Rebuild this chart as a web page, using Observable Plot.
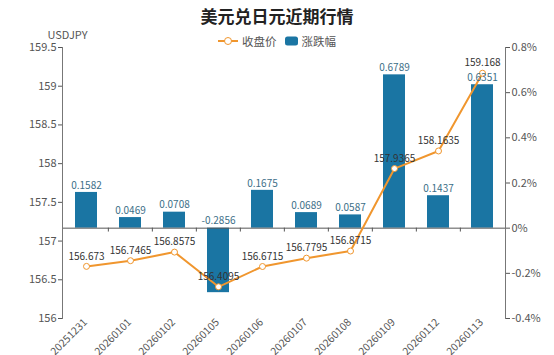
<!DOCTYPE html>
<html><head><meta charset="utf-8">
<script src="https://cdn.jsdelivr.net/npm/d3@7"></script>
<script src="https://cdn.jsdelivr.net/npm/@observablehq/plot@0.6"></script>
<style>
body{margin:0;background:#fff;font-family:"Noto Sans CJK SC","Noto Sans",sans-serif;}
#wrap{position:relative;width:554px;height:355px;}
#title{position:absolute;left:0;width:554px;top:4px;text-align:center;font-size:17px;font-weight:bold;color:#222;line-height:24px;}
#legend{position:absolute;left:0;width:554px;top:33px;text-align:center;font-size:11.5px;color:#555;line-height:16px;}
#legend span{display:inline-flex;align-items:center;margin:0 4px;}
#legend svg{margin-right:4px;}
</style></head>
<body><div id="wrap">
<div id="title">美元兑日元近期行情</div>
<div id="legend"><span><svg width="20" height="10"><line x1="0" y1="5" x2="20" y2="5" stroke="#f0962e" stroke-width="2"/><circle cx="10" cy="5" r="3.5" fill="#fff" stroke="#f0962e"/></svg>收盘价</span><span><svg width="13" height="10"><rect x="0" y="0.5" width="13" height="9" rx="2.5" fill="#1a75a3"/></svg>涨跌幅</span></div>
</div>
<script>
const dates = ["20251231","20260101","20260102","20260105","20260106","20260107","20260108","20260109","20260112","20260113"];
const closePrice = [156.673,156.7465,156.8575,156.4095,156.6715,156.7795,156.8715,157.9365,158.1635,159.168];
const changePct = [0.1582,0.0469,0.0708,-0.2856,0.1675,0.0689,0.0587,0.6789,0.1437,0.6351];
const leftTicks = [156,156.5,157,157.5,158,158.5,159,159.5];
const rightTicks = [-0.4,-0.2,0,0.2,0.4,0.6,0.8];

const data = dates.map((d,i)=>({date:d, close:closePrice[i], change:changePct[i]}));
const L0 = 156, L1 = 159.5, R0 = -0.4, R1 = 0.8;
const toLeft = p => L0 + (p - R0) * (L1 - L0) / (R1 - R0);
const toRight = v => R0 + (v - L0) * (R1 - R0) / (L1 - L0);
const zero = toLeft(0);
const step = (554 - 62 - 49) / dates.length;

const chart = Plot.plot({
  width: 554, height: 355,
  marginLeft: 62, marginRight: 49, marginTop: 47, marginBottom: 37,
  style: {fontFamily: '"Noto Sans CJK SC","Noto Sans",sans-serif', fontSize: "11px", color: "#555", background: "transparent"},
  x: {domain: dates, padding: 0, axis: null},
  y: {domain: [L0, L1], axis: null},
  marks: [
    Plot.text(["Wind"], {frameAnchor: "middle", dx: 0, dy: -17, fontSize: 48, fontWeight: "bold", fill: "#000", fillOpacity: 0.02}),
    Plot.barY(data, {x: "date", y1: () => zero, y2: d => toLeft(d.change), fill: "#1a75a3", insetLeft: 11, insetRight: 11}),
    Plot.ruleY([zero], {stroke: "#555", strokeWidth: 1}),
    Plot.ruleX(dates.slice(1), {x: d => d, y1: zero, y2: zero - 0.05, dx: -step/2, stroke: "#555"}),
    Plot.line(data, {x: "date", y: "close", stroke: "#f0962e", strokeWidth: 2}),
    Plot.dot(data, {x: "date", y: "close", r: 3, fill: "white", stroke: "#f0962e", strokeWidth: 1}),
    Plot.text(data, {x: "date", y: "close", text: d => String(d.close), dy: -10, fill: "#333", fontSize: 10}),
    Plot.text(data, {x: "date", y: d => toLeft(Math.max(0, d.change)), text: d => d.change.toFixed(4), dy: -7, fill: "#3d6f88", fontSize: 10}),
    Plot.frame({anchor: "left", stroke: "#777"}),
    Plot.frame({anchor: "right", stroke: "#777"}),
    Plot.axisY({anchor: "left", ticks: leftTicks, tickFormat: d => String(d), tickSize: 4, tickPadding: 2, label: null, fill: "#555"}),
    Plot.axisY({anchor: "right", ticks: rightTicks.map(toLeft), tickFormat: v => { const p = Math.round(toRight(v) * 10) / 10; return (p === 0 ? "0" : String(p)) + "%"; }, tickSize: 4, tickPadding: 2, label: null, fill: "#555"}),
    Plot.text(data, {x: "date", frameAnchor: "bottom", text: "date", rotate: -45, textAnchor: "end", lineAnchor: "middle", dx: -1, dy: 2, fill: "#555", fontSize: 10.5}),
    Plot.text(["USDJPY"], {frameAnchor: "top-left", dx: -15, dy: -16, fill: "#555", fontSize: 11})
  ]
});
chart.style.position = "absolute";
chart.style.left = "0";
chart.style.top = "0";
document.getElementById("wrap").prepend(chart);
</script>
</body></html>
